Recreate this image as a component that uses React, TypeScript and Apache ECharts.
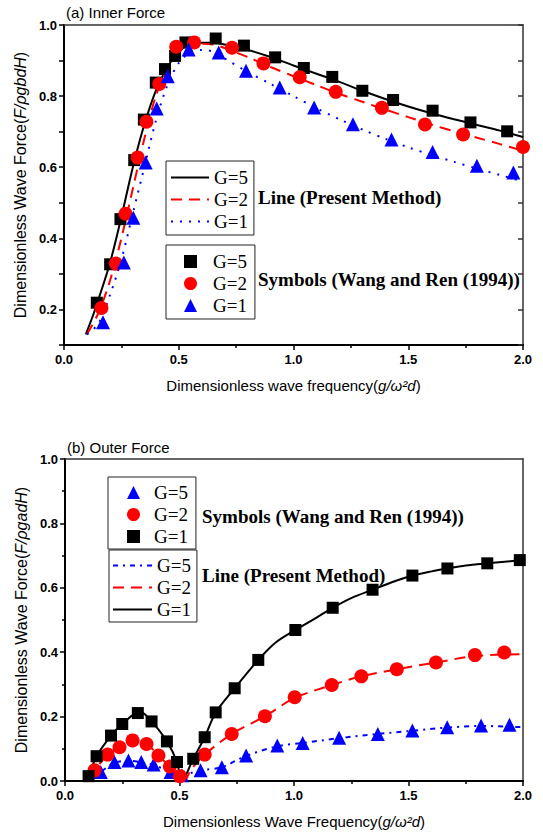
import React, { useEffect, useRef } from "react";
import * as echarts from "echarts";

// ---------- (a) Inner Force ----------
const innerLineG5 = [[0.095,0.13],[0.13,0.19],[0.2,0.33],[0.25,0.46],[0.3,0.6],[0.35,0.72],[0.4,0.815],[0.45,0.88],[0.5,0.925],[0.55,0.945],[0.6,0.95],[0.65,0.95],[0.7,0.945],[0.8,0.93],[0.9,0.91],[1.0,0.886],[1.1,0.863],[1.2,0.84],[1.3,0.815],[1.4,0.792],[1.5,0.771],[1.6,0.752],[1.7,0.735],[1.8,0.719],[1.9,0.703],[2.0,0.685]];
const innerLineG2 = [[0.1,0.13],[0.15,0.19],[0.2,0.28],[0.25,0.4],[0.3,0.54],[0.35,0.68],[0.4,0.8],[0.45,0.875],[0.5,0.92],[0.55,0.942],[0.6,0.947],[0.65,0.945],[0.7,0.935],[0.8,0.91],[0.9,0.882],[1.0,0.856],[1.1,0.831],[1.2,0.806],[1.3,0.784],[1.4,0.762],[1.5,0.741],[1.6,0.72],[1.7,0.701],[1.8,0.683],[1.9,0.665],[2.0,0.646]];
const innerLineG1 = [[0.1,0.13],[0.15,0.16],[0.2,0.24],[0.25,0.34],[0.3,0.47],[0.35,0.6],[0.4,0.73],[0.45,0.83],[0.5,0.893],[0.55,0.923],[0.6,0.93],[0.65,0.925],[0.7,0.906],[0.8,0.868],[0.9,0.834],[1.0,0.8],[1.1,0.766],[1.2,0.735],[1.3,0.706],[1.4,0.68],[1.5,0.656],[1.6,0.635],[1.7,0.615],[1.8,0.596],[1.9,0.578],[2.0,0.56]];
const innerSymG5 = [[0.143,0.219],[0.201,0.327],[0.246,0.454],[0.306,0.62],[0.348,0.734],[0.4,0.838],[0.44,0.876],[0.484,0.913],[0.529,0.951],[0.661,0.962],[0.784,0.942],[0.92,0.909],[1.045,0.879],[1.169,0.854],[1.3,0.815],[1.434,0.789],[1.606,0.759],[1.771,0.726],[1.931,0.701]];
const innerSymG2 = [[0.163,0.204],[0.226,0.329],[0.268,0.469],[0.321,0.627],[0.359,0.728],[0.415,0.834],[0.489,0.939],[0.567,0.951],[0.732,0.936],[0.869,0.892],[1.027,0.853],[1.184,0.812],[1.385,0.767],[1.573,0.72],[1.739,0.692],[2.0,0.657]];
const innerSymG1 = [[0.17,0.164],[0.261,0.332],[0.302,0.458],[0.356,0.613],[0.404,0.765],[0.452,0.856],[0.543,0.931],[0.674,0.923],[0.793,0.871],[0.94,0.824],[1.09,0.768],[1.259,0.721],[1.427,0.678],[1.606,0.643],[1.799,0.604],[1.958,0.585]];

// ---------- (b) Outer Force ----------
const outerLineG1 = [[0.09,0.0],[0.1,0.012],[0.138,0.077],[0.201,0.141],[0.25,0.177],[0.3,0.207],[0.33,0.214],[0.378,0.185],[0.445,0.123],[0.489,0.059],[0.51,0.0],[0.56,0.069],[0.61,0.136],[0.658,0.213],[0.741,0.288],[0.844,0.376],[0.92,0.43],[1.006,0.469],[1.1,0.508],[1.169,0.538],[1.25,0.568],[1.343,0.594],[1.43,0.618],[1.517,0.638],[1.6,0.651],[1.67,0.66],[1.75,0.669],[1.844,0.676],[1.92,0.681],[2.0,0.686]];
const outerLineG2 = [[0.1,0.01],[0.129,0.033],[0.186,0.082],[0.238,0.105],[0.295,0.126],[0.356,0.115],[0.408,0.079],[0.458,0.045],[0.502,0.012],[0.52,0.0],[0.55,0.035],[0.61,0.082],[0.728,0.146],[0.873,0.201],[1.003,0.258],[1.165,0.298],[1.294,0.325],[1.449,0.347],[1.62,0.368],[1.79,0.388],[2.0,0.394]];
const outerLineG5 = [[0.1,0.0],[0.156,0.028],[0.216,0.057],[0.277,0.063],[0.333,0.058],[0.387,0.05],[0.461,0.028],[0.511,0.015],[0.55,0.025],[0.592,0.033],[0.685,0.043],[0.791,0.078],[0.927,0.108],[1.038,0.118],[1.197,0.133],[1.366,0.146],[1.517,0.156],[1.669,0.166],[1.817,0.171],[2.0,0.167]];
const outerSymG1 = [[0.103,0.015],[0.138,0.077],[0.201,0.141],[0.25,0.177],[0.318,0.211],[0.378,0.185],[0.445,0.123],[0.489,0.059],[0.56,0.069],[0.61,0.136],[0.658,0.213],[0.741,0.288],[0.844,0.376],[1.006,0.469],[1.169,0.538],[1.343,0.594],[1.517,0.638],[1.67,0.66],[1.844,0.676],[1.986,0.686]];
const outerSymG2 = [[0.129,0.033],[0.186,0.082],[0.238,0.105],[0.295,0.126],[0.356,0.115],[0.408,0.079],[0.458,0.045],[0.502,0.015],[0.61,0.082],[0.728,0.146],[0.873,0.201],[1.003,0.26],[1.165,0.298],[1.294,0.325],[1.449,0.347],[1.62,0.368],[1.79,0.391],[1.918,0.399]];
const outerSymG5 = [[0.156,0.028],[0.216,0.059],[0.277,0.064],[0.333,0.059],[0.387,0.051],[0.461,0.028],[0.511,0.018],[0.592,0.033],[0.685,0.043],[0.791,0.079],[0.927,0.11],[1.038,0.118],[1.197,0.134],[1.366,0.146],[1.517,0.157],[1.669,0.167],[1.817,0.172],[1.941,0.175]];

const SANS = '"Liberation Sans", Arial, sans-serif';
const SERIF = '"Liberation Serif", "Times New Roman", serif';
const BLACK = "#000000";
const RED = "#ff0000";
const BLUE = "#0000ff";

const fmt1 = (v: number) => v.toFixed(1);

function bottomX(gridIndex: number, name: string) {
  return {
    type: "value", gridIndex, position: "bottom", min: 0, max: 2, interval: 0.5,
    name, nameLocation: "middle", nameGap: 33,
    nameTextStyle: { fontFamily: SANS, fontSize: 15, color: BLACK, rich: { i: { fontFamily: SANS, fontSize: 15, fontStyle: "italic", color: BLACK } } },
    axisLine: { show: true, onZero: false, lineStyle: { color: BLACK, width: 2 } },
    axisTick: { show: true, inside: false, length: 5, lineStyle: { color: BLACK, width: 1.5 } },
    minorTick: { show: true, splitNumber: 2, length: 3, lineStyle: { color: BLACK, width: 1.5 } },
    axisLabel: { formatter: fmt1, fontFamily: SANS, fontWeight: "bold", fontSize: 13, color: BLACK, margin: 8 },
    splitLine: { show: false }, minorSplitLine: { show: false },
  };
}
function topX(gridIndex: number) {
  return {
    type: "value", gridIndex, position: "top", min: 0, max: 2, interval: 0.5,
    axisLine: { show: true, onZero: false, lineStyle: { color: "#333333", width: 1.5 } },
    axisTick: { show: false }, axisLabel: { show: false }, splitLine: { show: false },
  };
}

export default function App() {
  const ref = useRef<HTMLDivElement>(null);
  useEffect(() => {
    if (!ref.current) return;
    const chart = echarts.init(ref.current, undefined, { renderer: "svg" });

    const lineSeries = (name: string, xi: number, yi: number, data: number[][], color: string, type: any, width: number) => ({
      type: "line", name, xAxisIndex: xi, yAxisIndex: yi, data, smooth: 0.3, symbol: "none", showSymbol: false,
      lineStyle: { color, width, type }, itemStyle: { color }, z: 2, silent: true,
    });
    const symSeries = (name: string, xi: number, yi: number, data: number[][], color: string, symbol: string, size: number) => ({
      type: "scatter", name, xAxisIndex: xi, yAxisIndex: yi, data, symbol, symbolSize: size, symbolKeepAspect: true,
      itemStyle: { color, opacity: 1 }, z: 3, silent: true,
    });

    const legendBase = {
      orient: "vertical", align: "left", selectedMode: false, itemWidth: 38, itemHeight: 12, itemGap: 3,
      borderColor: "#222222", borderWidth: 1, borderRadius: 0, backgroundColor: "transparent",
      formatter: (n: string) => n.split("|")[1],
      textStyle: { fontFamily: SERIF, fontSize: 19, lineHeight: 19, color: BLACK, padding: 0 },
    };
    const lineLegend = { ...legendBase, itemStyle: { opacity: 0 } };
    const symLegend = { ...legendBase, itemWidth: 13, itemHeight: 13 };

    const option: any = {
      animation: false,
      backgroundColor: "#ffffff",
      grid: [
        { left: 64, top: 25, width: 459, height: 320, containLabel: false },
        { left: 65, top: 459, width: 458, height: 322, containLabel: false },
      ],
      xAxis: [
        bottomX(0, "Dimensionless wave frequency({i|g/ω²d})"),
        topX(0),
        bottomX(1, "Dimensionless Wave Frequency({i|g/ω²d})"),
        topX(1),
      ],
      yAxis: [
        {
          type: "value", gridIndex: 0, position: "left", min: 0.1, max: 1.0, interval: 0.1,
          name: "Dimensionless Wave Force({i|F/ρgbdH})", nameLocation: "middle", nameGap: 35,
          nameTextStyle: { fontFamily: SANS, fontSize: 16, color: BLACK, rich: { i: { fontFamily: SANS, fontSize: 16, fontStyle: "italic", color: BLACK } } },
          axisLine: { show: true, onZero: false, lineStyle: { color: BLACK, width: 2 } },
          axisTick: { show: true, length: 5, lineStyle: { color: BLACK, width: 1.5 } },
          axisLabel: { formatter: (v: number) => (Math.round(v * 10) % 2 === 0 ? v.toFixed(1) : ""), fontFamily: SANS, fontWeight: "bold", fontSize: 13, color: BLACK, margin: 7 },
          splitLine: { show: false },
        },
        {
          type: "value", gridIndex: 0, position: "right", min: 0.1, max: 1.0, interval: 0.1,
          axisLine: { show: true, onZero: false, lineStyle: { color: "#333333", width: 1.5 } },
          axisTick: { show: true, inside: true, length: 5, lineStyle: { color: "#333333", width: 1.5 } },
          axisLabel: { show: false }, splitLine: { show: false },
        },
        {
          type: "value", gridIndex: 1, position: "left", min: 0, max: 1.0, interval: 0.2,
          name: "Dimensionless Wave Force({i|F/ρgadH})", nameLocation: "middle", nameGap: 35,
          nameTextStyle: { fontFamily: SANS, fontSize: 16, color: BLACK, rich: { i: { fontFamily: SANS, fontSize: 16, fontStyle: "italic", color: BLACK } } },
          axisLine: { show: true, onZero: false, lineStyle: { color: BLACK, width: 2 } },
          axisTick: { show: true, length: 5, lineStyle: { color: BLACK, width: 1.5 } },
          minorTick: { show: true, splitNumber: 2, length: 3, lineStyle: { color: BLACK, width: 1.5 } },
          axisLabel: { formatter: fmt1, fontFamily: SANS, fontWeight: "bold", fontSize: 13, color: BLACK, margin: 7 },
          splitLine: { show: false }, minorSplitLine: { show: false },
        },
        {
          type: "value", gridIndex: 1, position: "right", min: 0, max: 1.0, interval: 0.2,
          axisLine: { show: true, onZero: false, lineStyle: { color: "#333333", width: 1.5 } },
          axisTick: { show: false }, axisLabel: { show: false }, splitLine: { show: false },
        },
      ],
      legend: [
        { ...lineLegend, left: 166, top: 161, padding: [7, 6, 4, 4], data: ["a-line|G=5", "a-line2|G=2", "a-line1|G=1"] },
        { ...symLegend, left: 166, top: 245, padding: [7, 8, 4, 18], textStyle: { ...legendBase.textStyle, padding: [0, 0, 0, 11] }, data: ["a-sym5|G=5", "a-sym2|G=2", "a-sym1|G=1"] },
        { ...symLegend, left: 108, top: 477, padding: [6, 8, 3, 19], textStyle: { ...legendBase.textStyle, lineHeight: 18, padding: [0, 0, 0, 9] }, data: ["b-sym5|G=5", "b-sym2|G=2", "b-sym1|G=1"] },
        { ...lineLegend, left: 109, top: 550, itemWidth: 39, padding: [6, 6, 3, 3], textStyle: { ...legendBase.textStyle, lineHeight: 18 }, data: ["b-line5|G=5", "b-line2|G=2", "b-line1|G=1"] },
      ],
      graphic: [
        { type: "text", x: 66, y: 12, style: { text: "(a) Inner Force", font: `15px ${SANS}`, fill: BLACK, verticalAlign: "middle" } },
        { type: "text", x: 67, y: 447, style: { text: "(b) Outer Force", font: `15px ${SANS}`, fill: BLACK, verticalAlign: "middle" } },
        { type: "text", x: 258, y: 197, style: { text: "Line (Present Method)", font: `bold 19px ${SERIF}`, fill: BLACK, verticalAlign: "middle" } },
        { type: "text", x: 258, y: 279, style: { text: "Symbols (Wang and Ren (1994))", font: `bold 19px ${SERIF}`, fill: BLACK, verticalAlign: "middle" } },
        { type: "text", x: 202, y: 516, style: { text: "Symbols (Wang and Ren (1994))", font: `bold 19px ${SERIF}`, fill: BLACK, verticalAlign: "middle" } },
        { type: "text", x: 202, y: 575, style: { text: "Line (Present Method)", font: `bold 19px ${SERIF}`, fill: BLACK, verticalAlign: "middle" } },
      ],
      series: [
        lineSeries("a-line|G=5", 0, 0, innerLineG5, BLACK, "solid", 2),
        lineSeries("a-line2|G=2", 0, 0, innerLineG2, RED, [11, 7], 2),
        lineSeries("a-line1|G=1", 0, 0, innerLineG1, BLUE, [2, 7], 2),
        symSeries("a-sym5|G=5", 0, 0, innerSymG5, BLACK, "rect", 12),
        symSeries("a-sym2|G=2", 0, 0, innerSymG2, RED, "circle", 14),
        symSeries("a-sym1|G=1", 0, 0, innerSymG1, BLUE, "triangle", 14),
        lineSeries("b-line5|G=5", 2, 2, outerLineG5, BLUE, [5, 5, 2, 5], 2),
        lineSeries("b-line2|G=2", 2, 2, outerLineG2, RED, [11, 7], 2),
        lineSeries("b-line1|G=1", 2, 2, outerLineG1, BLACK, "solid", 2),
        symSeries("b-sym5|G=5", 2, 2, outerSymG5, BLUE, "triangle", 14),
        symSeries("b-sym2|G=2", 2, 2, outerSymG2, RED, "circle", 14),
        symSeries("b-sym1|G=1", 2, 2, outerSymG1, BLACK, "rect", 12),
      ],
    };
    chart.setOption(option);
    return () => chart.dispose();
  }, []);
  return <div ref={ref} style={{ position: "fixed", left: 0, top: 0, width: 543, height: 832, background: "#fff" }} />;
}
